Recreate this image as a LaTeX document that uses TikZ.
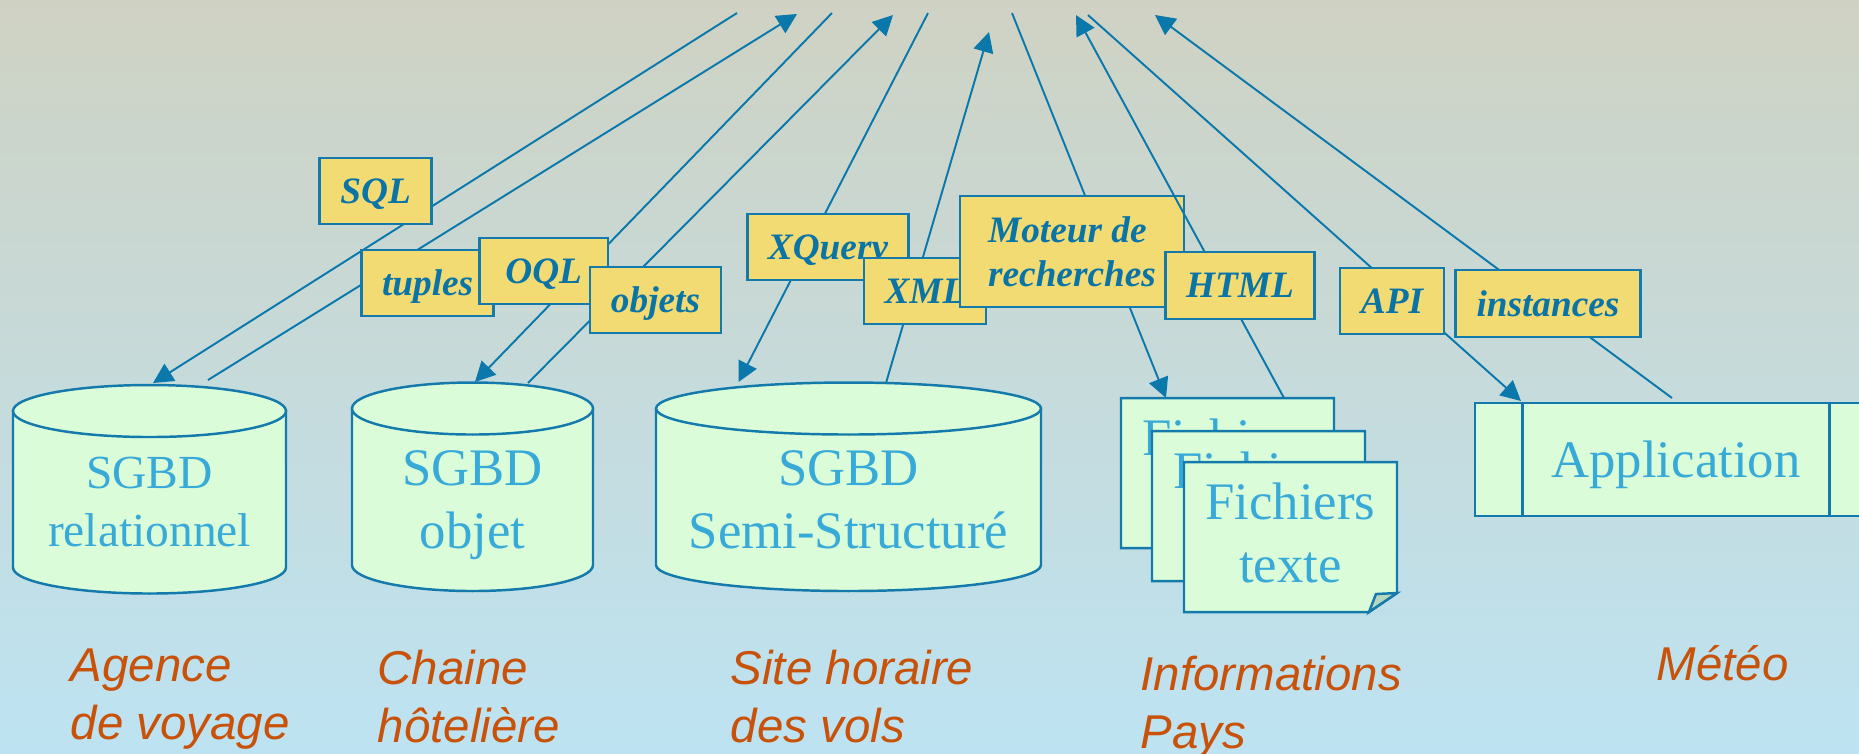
\documentclass[tikz,border=0pt]{standalone}
\usepackage{fontspec}
\setmainfont{Liberation Serif}
\newfontfamily\sitefont{Liberation Sans}
\usepackage{tikz}
\usetikzlibrary{positioning,arrows.meta}
\definecolor{BgTop}{RGB}{207,210,195}
\definecolor{BgBottom}{RGB}{189,227,242}
\definecolor{LinkBlue}{RGB}{10,120,170}
\definecolor{TagYellow}{RGB}{243,219,116}
\definecolor{TagText}{RGB}{10,116,166}
\definecolor{StoreFill}{RGB}{218,252,216}
\definecolor{StoreLine}{RGB}{20,122,172}
\definecolor{StoreText}{RGB}{56,170,216}
\definecolor{FoldGray}{RGB}{182,214,192}
\definecolor{SiteOrange}{RGB}{200,82,10}
\tikzset{
  ask/.style={draw=LinkBlue,line width=.55pt,-{Triangle[length=5.7pt,width=5.7pt]}},
  tagbox/.style={draw=StoreLine,fill=TagYellow,line width=.7pt,inner sep=0pt,text depth=0pt,
    text=TagText,font=\fontsize{10.6}{12.5}\selectfont\bfseries\itshape,align=left},
  store/.style={draw=StoreLine,fill=StoreFill,line width=.7pt},
  storetext/.style={inner sep=0pt,anchor=north,align=center,text=StoreText,
    font=\fontsize{15}{18}\selectfont},
  site/.style={inner sep=0pt,anchor=north west,align=left,text=SiteOrange,
    font=\sitefont\itshape\fontsize{13.5}{16.5}\selectfont},
}

\begin{document}
\begin{tikzpicture}[x=.01cm,y=-.01cm]
\useasboundingbox (0,0) rectangle (1859,753);
\clip (0,0) rectangle (1859,753);
\shade[top color=BgTop,bottom color=BgBottom] (0,0) rectangle (1859,753);
% data stores
\foreach \cx/\rx/\yt/\yb in {149.5/136.5/411/567.5,472.5/120.5/408.5/565,848.5/192.5/408.5/565}{
  \path[store] (\cx-\rx,\yt) -- (\cx-\rx,\yb) arc[start angle=180,end angle=0,x radius=\rx,y radius=26]
    -- (\cx+\rx,\yt) -- cycle;
  \path[store] (\cx,\yt) ellipse[x radius=\rx,y radius=26];
}
\node[storetext,font=\fontsize{13.5}{16.5}\selectfont] (rel) at (149.5,456.7) {SGBD\\relationnel};
\node[storetext] (oo) at (472.5,450) {SGBD\\objet};
\node[storetext] (semi) at (848.5,450) {SGBD\\Semi-Structuré};
\foreach \n/\x/\y in {pageA/1121/398,pageB/1152/431,pageC/1184/462}{
  \path[store] (\x,\y) -- (\x+213,\y) -- (\x+213,\y+131) -- (\x+185,\y+150) -- (\x,\y+150) -- cycle;
  \path[store,fill=FoldGray] (\x+185,\y+150) -- (\x+192,\y+132) -- (\x+213,\y+131) -- cycle;
  \node[storetext] (\n) at (\x+106.5,\y+19.7) {Fichiers\\texte};
}
\node[store,minimum width=4.02cm,minimum height=1.13cm,inner sep=0pt,text depth=0pt,
  text=StoreText,font=\fontsize{15}{18}\selectfont] (app) at (1676,459.5) {Application};
\draw[StoreLine,line width=.7pt] ([xshift=.49cm]app.north west) -- ([xshift=.49cm]app.south west)
  ([xshift=-.49cm]app.north east) -- ([xshift=-.49cm]app.south east);
% queries and answers
\foreach \n/\x/\y in {sqlT/737/13,tupT/797/14,oqlT/832/13,objT/893/15,xqT/928/13,xmlT/989/32,
  motT/1012/13,htmT/1076/15,apiT/1088/15,insT/1155/15,
  relIn/153/383,relOut/208/380,ooIn/475/382,ooOut/528/383,semiIn/738.5/382,semiOut/886/383,
  txtIn/1166/398,txtOut/1284/398,appIn/1521/401,appOut/1672/398}
  \coordinate (\n) at (\x,\y);
\foreach \a/\b/\n/\x/\y/\w/\h/\t in {
  sqlT/relIn/sqlbox/375.6/191/1.12/.66/SQL,
  relOut/tupT/tupbox/427.6/283/1.32/.66/tuples,
  oqlT/ooIn/oqlbox/543.7/271/1.28/.66/OQL,
  ooOut/objT/objbox/655.5/300/1.31/.66/objets,
  xqT/semiIn/xqbox/828/247/1.61/.66/XQuery,
  semiOut/xmlT/xmlbox/925/291/1.22/.66/XML,
  motT/txtIn/motbox/1072/251.5/2.24/1.11/{Moteur de\\recherches},
  txtOut/htmT/htmbox/1240/285.5/1.49/.67/HTML,
  apiT/appIn/apibox/1392/301/1.04/.66/API,
  appOut/insT/insbox/1548/303.5/1.85/.67/instances}{
  \draw[ask] (\a) -- (\b);
  \node[tagbox,minimum width=\w cm,minimum height=\h cm] (\n) at (\x,\y) {\t};
}
% sites
\node[site] (agence) at (70,648) {Agence\\de voyage};
\node[site] (chaine) at (377,649) {Chaine\\hôtelière};
\node[site] (horaire) at (730,649) {Site horaire\\des vols};
\node[site] (pays) at (1140,655) {Informations\\Pays};
\node[site,anchor=base west] (meteo) at (1656,680) {Météo};
\end{tikzpicture}
\end{document}
